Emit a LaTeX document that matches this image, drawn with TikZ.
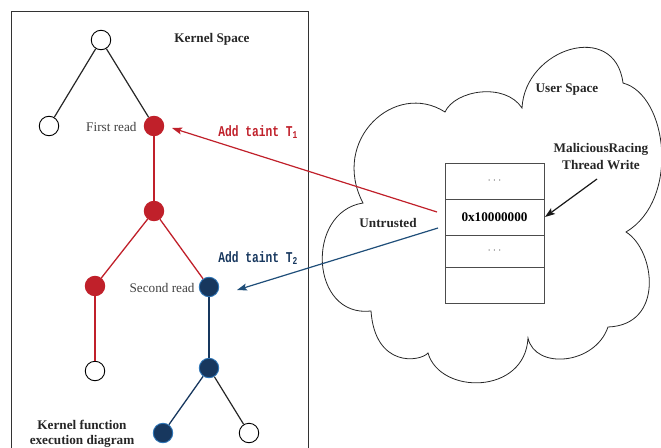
\documentclass[tikz,border=0pt]{standalone}
\usepackage{fontspec}
\setmainfont{Liberation Serif}
\newfontfamily\monob{Liberation Mono}
\usetikzlibrary{arrows.meta}
\definecolor{kred}{HTML}{C0202A}
\definecolor{knavy}{HTML}{17375E}
\definecolor{knavyedge}{HTML}{2E75B6}
\definecolor{arrnavy}{HTML}{1F4E79}
\begin{document}
\begin{tikzpicture}[x=1pt,y=-1pt,
  every node/.style={font=\fontsize{13.2}{16}\selectfont},
  vtx/.style={circle,minimum size=19.5pt,inner sep=0pt,line width=0.9pt},
  wnode/.style={vtx,draw=black,fill=white},
  rnode/.style={vtx,draw=kred,fill=kred},
  bnode/.style={vtx,draw=knavyedge,fill=knavy},
  kedge/.style={line width=1.2pt,black!85},
  redge/.style={line width=1.3pt,kred},
  bedge/.style={line width=1.3pt,knavy},
  lbl/.style={text=black!75},
  blbl/.style={font=\fontsize{13.2}{16}\selectfont\bfseries,text=black!85,align=center},
  taint/.style={font=\fontsize{15}{17}\selectfont\monob\bfseries},
  cell/.style={draw=black!70,line width=1pt,minimum width=99pt,inner sep=0pt,outer sep=0pt},
  tipped/.style={-{Stealth[length=10pt,width=7pt,inset=2pt]}}
]
\useasboundingbox (0,0) rectangle (661,447);

% cloud (user space)
\draw[line width=0.8pt,black!85]
  (445,112) .. controls (455,90) and (505,82) .. (522,108)
  .. controls (525,48) and (615,20) .. (623,83)
  .. controls (668,95) and (680,200) .. (626,232)
  .. controls (655,250) and (665,325) .. (608,327)
  .. controls (595,365) and (535,370) .. (528,338)
  .. controls (525,395) and (440,395) .. (428,353)
  .. controls (420,362) and (375,368) .. (371,311)
  .. controls (310,318) and (305,212) .. (363,203)
  .. controls (330,140) and (395,80) .. (445,112) -- cycle;

% kernel space frame
\draw[line width=1pt,black!80] (11,450) -- (11,11) -- (308,11) -- (308,450);

% labels
\node[blbl] (ks) at (212,39) {Kernel Space};
\node[blbl] (us) at (567,90) {User Space};
\node[blbl] (un) at (388,223) {Untrusted};
\node[blbl,font=\fontsize{13.2}{15}\selectfont\bfseries] (kf) at (82,434) {Kernel function\\execution diagram};
\node[blbl,font=\fontsize{13.2}{17}\selectfont\bfseries] (mal) at (601,157) {MaliciousRacing\\Thread Write};

% tree nodes
\node[wnode] (r) at (101,40) {};
\node[wnode] (l1) at (49,126) {};
\node[rnode] (fr) at (154,126) {};
\node[rnode] (n2) at (154,211) {};
\node[rnode] (n3) at (95,286) {};
\node[bnode] (sr) at (209,287) {};
\node[wnode] (n5) at (95,371) {};
\node[bnode] (n6) at (209,368) {};
\node[bnode] (n7) at (163,433) {};
\node[wnode] (n8) at (249,433) {};

\node[lbl,anchor=east] (frl) at (140,127) {First read};
\node[lbl,anchor=east] (srl) at (198,288) {Second read};

% tree edges
\draw[kedge] (r) -- (l1);
\draw[kedge] (r) -- (fr);
\draw[redge] (fr) -- (n2);
\draw[redge] (n2) -- (n3);
\draw[redge] (n2) -- (sr);
\draw[redge] (n3) -- (n5);
\draw[bedge] (sr) -- (n6);
\draw[bedge] (n6) -- (n7);
\draw[kedge] (n6) -- (n8);

% memory cells
\node[cell,minimum height=36pt] (c1) at (494.5,181) {\textcolor{black!60}{$\cdots$}};
\node[cell,minimum height=36pt,font=\fontsize{13.2}{16}\selectfont\bfseries] (c2) at (494.5,217) {0x10000000};
\node[cell,minimum height=32pt] (c3) at (494.5,251) {\textcolor{black!60}{$\cdots$}};
\node[cell,minimum height=36pt] (c4) at (494.5,285) {};

% taint arrows
\coordinate (t1s) at (437,212);
\coordinate (t1e) at (172,128);
\coordinate (t2s) at (438,228);
\coordinate (t2e) at (237,290);
\draw[tipped,line width=1.2pt,kred] (t1s) -- (t1e);
\draw[tipped,line width=1.2pt,arrnavy] (t2s) -- (t2e);
\node[taint,text=kred] (tt1) at (258,132) {\scalebox{0.75}[1]{Add taint T\textsubscript{1}}};
\node[taint,text=knavy] (tt2) at (258,258) {\scalebox{0.75}[1]{Add taint T\textsubscript{2}}};

% malicious write arrow
\coordinate (ms) at (597,179);
\draw[tipped,line width=1.2pt,black!90] (ms) -- ([xshift=1pt]c2.east);
\end{tikzpicture}
\end{document}
